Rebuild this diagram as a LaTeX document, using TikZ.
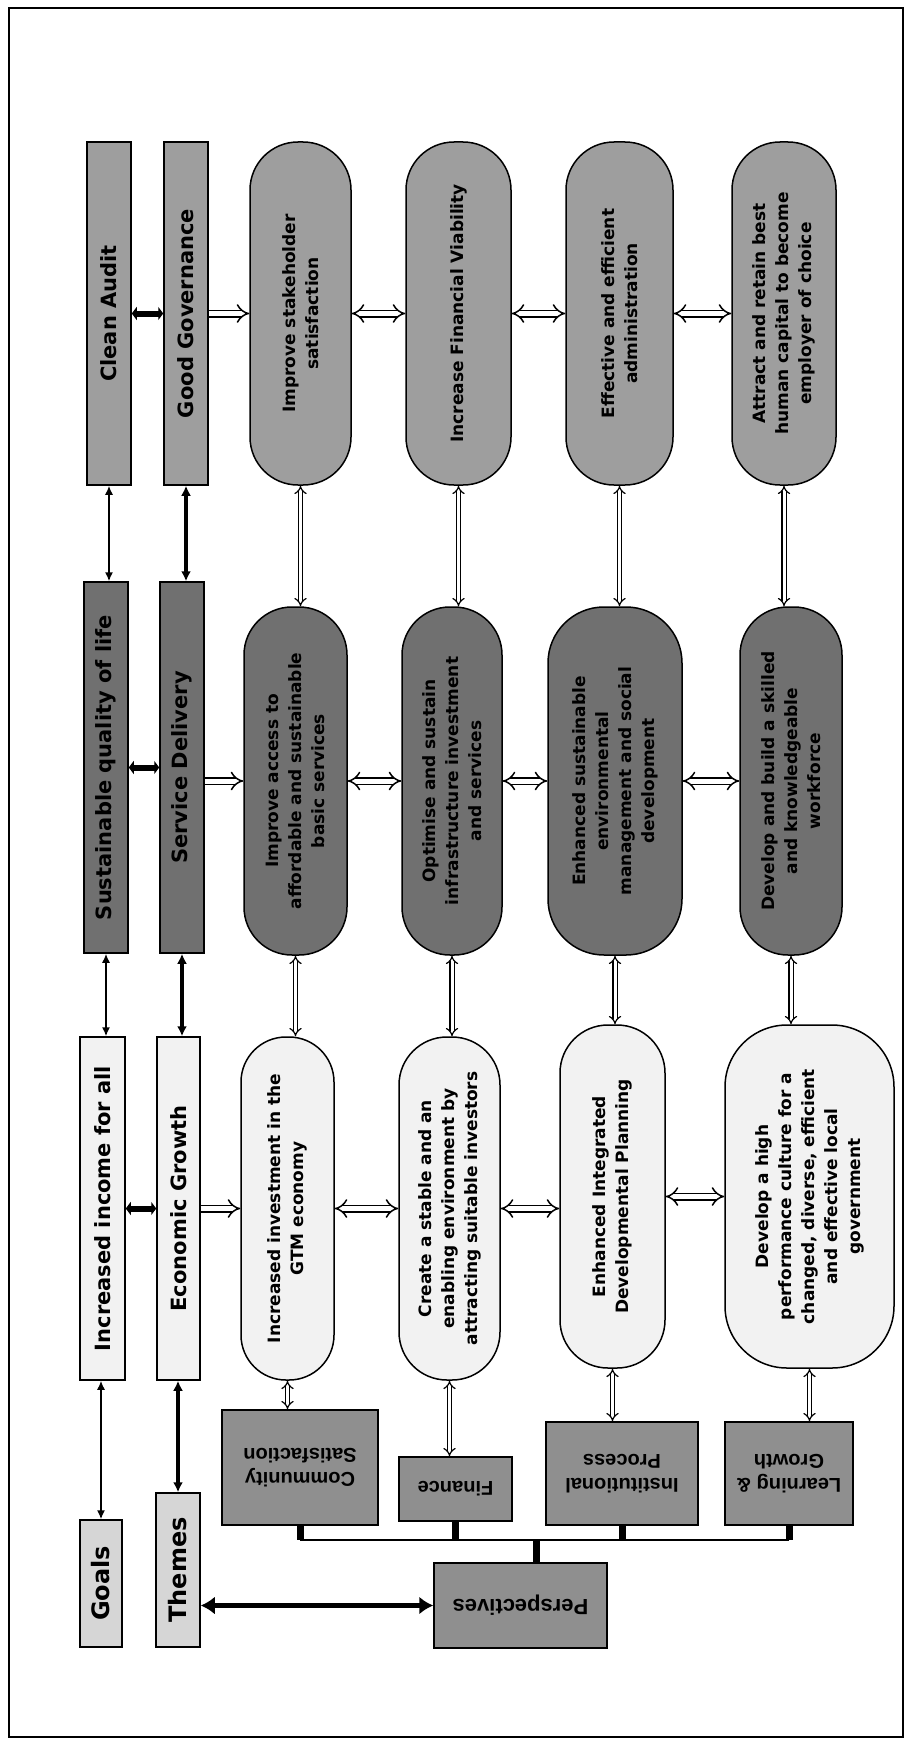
\documentclass[tikz,border=0pt]{standalone}
\usepackage{fontspec}
\setmainfont{DejaVu Sans}
\newfontfamily\perspfont{Liberation Sans}
\usetikzlibrary{arrows.meta}
\definecolor{midgray}{gray}{0.62}
\definecolor{deepgray}{gray}{0.44}
\definecolor{palegray}{gray}{0.95}
\definecolor{lightgray2}{gray}{0.84}
\definecolor{perspgray}{gray}{0.56}

\begin{document}
\begin{tikzpicture}[x=1pt,y=-1pt,
		goalbox/.style={draw=black, line width=1.5pt, rotate=90, inner sep=0pt, font=\bfseries\fontsize{21}{24}\selectfont},
		objective/.style={draw=black, line width=1.5pt, rotate=90, inner sep=0pt, rounded corners=#1, align=center, font=\bfseries\fontsize{17}{23}\selectfont},
		objective/.default=48pt,
		perspbox/.style={draw=black, line width=1.5pt, rotate=180, inner sep=0pt, align=center, fill=perspgray, font=\perspfont\bfseries\fontsize{20}{24}\selectfont},
		thinlink/.style={line width=1.5pt, {Latex[length=9pt,width=8pt]}-{Latex[length=9pt,width=8pt]}},
		boldlink/.style={line width=3.5pt, {Latex[length=10pt,width=10pt]}-{Latex[length=10pt,width=10pt]}},
		blocklink/.style={line width=6pt, {Triangle[length=5pt,width=13pt]}-{Triangle[length=5pt,width=13pt]}},
		heavylink/.style={line width=5.5pt, {Latex[length=14pt,width=18pt]}-{Latex[length=14pt,width=18pt]}},
		hollow/.style={line width=1.5pt, double=white, double distance=5pt},
		slimhollow/.style={line width=1.2pt, double=white, double distance=3pt, {Implies}-{Implies}}]
	\useasboundingbox (0,0) rectangle (910,1742);
	\draw[line width=2.5pt] (9,8) rectangle (903,1737);

	% goals and themes
	\node[goalbox, fill=midgray, minimum width=343pt, minimum height=44pt] (audit) at (109,313.5) {Clean Audit};
	\node[goalbox, fill=midgray, minimum width=343pt, minimum height=44pt] (governance) at (186,313.5) {Good Governance};
	\node[goalbox, fill=deepgray, minimum width=371pt, minimum height=44pt] (quality) at (106,767.5) {Sustainable quality of life};
	\node[goalbox, fill=deepgray, minimum width=371pt, minimum height=44pt] (delivery) at (182,767.5) {Service Delivery};
	\node[goalbox, fill=palegray, minimum width=343pt, minimum height=45pt] (income) at (102.5,1208.5) {Increased income for all};
	\node[goalbox, fill=palegray, minimum width=343pt, minimum height=43pt] (growth) at (178.5,1208.5) {Economic Growth};
	\node[goalbox, fill=lightgray2, minimum width=127pt, minimum height=42pt, font=\bfseries\fontsize{24}{26}\selectfont] (goals) at (101,1583.5) {Goals};
	\node[goalbox, fill=lightgray2, minimum width=154pt, minimum height=44pt, font=\bfseries\fontsize{24}{26}\selectfont] (themes) at (178,1570) {Themes};

	% objectives
	\node[objective, fill=midgray, minimum width=343pt, minimum height=101pt] (stakeholder) at (300.5,313.5) {Improve stakeholder\\satisfaction};
	\node[objective, fill=midgray, minimum width=343pt, minimum height=105pt] (viability) at (458.5,313.5) {Increase Financial Viability};
	\node[objective, fill=midgray, minimum width=343pt, minimum height=107pt] (admin) at (619.5,313.5) {Effective and efficient\\administration};
	\node[objective, fill=midgray, minimum width=343pt, minimum height=104pt] (capital) at (784,313.5) {Attract and retain best\\human capital to become\\employer of choice};
	\node[objective, fill=deepgray, minimum width=348pt, minimum height=103pt] (access) at (295.5,781) {Improve access to\\affordable and sustainable\\basic services};
	\node[objective, fill=deepgray, minimum width=348pt, minimum height=100pt] (infra) at (452,781) {Optimise and sustain\\infrastructure investment\\and services};
	\node[objective=56pt, fill=deepgray, minimum width=348pt, minimum height=134pt] (environ) at (615,781) {Enhanced sustainable\\environmental\\management and social\\development};
	\node[objective, fill=deepgray, minimum width=348pt, minimum height=102pt] (workforce) at (791,781) {Develop and build a skilled\\and knowledgeable\\workforce};
	\node[objective=45pt, fill=palegray, minimum width=343pt, minimum height=93pt] (investment) at (287.5,1208.5) {Increased investment in the\\GTM economy};
	\node[objective, fill=palegray, minimum width=343pt, minimum height=101pt] (stable) at (449.5,1208.5) {Create a stable and an\\enabling environment by\\attracting suitable investors};
	\node[objective, fill=palegray, minimum width=343pt, minimum height=105pt] (planning) at (612.5,1196.5) {Enhanced Integrated\\Developmental Planning};
	\node[objective=62pt, fill=palegray, minimum width=343pt, minimum height=169pt] (culture) at (809.5,1196.5) {Develop a high\\performance culture for a\\changed, diverse, efficient\\and effective local\\government};

	% perspectives
	\node[perspbox, minimum width=156pt, minimum height=115pt] (community) at (300,1467.5) {Community\\Satisfaction};
	\node[perspbox, minimum width=113pt, minimum height=64pt] (finance) at (455.5,1489) {Finance};
	\node[perspbox, minimum width=152pt, minimum height=103pt] (institutional) at (622,1473.5) {Institutional\\Process};
	\node[perspbox, minimum width=128pt, minimum height=103pt] (learning) at (789,1473.5) {Learning \&\\Growth};
	\node[perspbox, minimum width=173pt, minimum height=85pt, font=\perspfont\bfseries\fontsize{22}{24}\selectfont] (perspectives) at (520.5,1605.5) {Perspectives};

	% links between goals and themes
	\draw[thinlink] (audit.west) -- (audit.west |- quality.east);
	\draw[boldlink] (governance.west) -- (governance.west |- delivery.east);
	\draw[thinlink] (quality.west) -- (quality.west |- income.east);
	\draw[boldlink] (delivery.west) -- (delivery.west |- growth.east);
	\draw[thinlink] (goals.east) -- (goals.east |- income.west);
	\draw[boldlink] (themes.east) -- (themes.east |- growth.west);
	\draw[blocklink] (audit.south) -- (audit.south -| governance.north);
	\draw[blocklink] (quality.south) -- (quality.south -| delivery.north);
	\draw[blocklink] (income.south) -- (income.south -| growth.north);
	\draw[heavylink] (perspectives.east -| themes.south) -- (perspectives.east);

	% themes to objectives
	\draw[hollow, -{Implies}] (governance.south |- stakeholder.north) -- (stakeholder.north);
	\draw[hollow, -{Implies}] (delivery.south |- access.north) -- (access.north);
	\draw[hollow, -{Implies}] (growth.south |- investment.north) -- (investment.north);
	\foreach \a/\b in {stakeholder/viability, viability/admin, admin/capital,
			access/infra, infra/environ, environ/workforce,
			investment/stable, stable/planning, planning/culture}
		\draw[hollow, {Implies}-{Implies}] (\a.south) -- (\a.south -| \b.north);

	% objectives down the columns
	\foreach \a/\b in {stakeholder/access, viability/infra, admin/environ, capital/workforce,
			access/investment, infra/stable, environ/planning, workforce/culture}
		\draw[slimhollow] (\a.west) -- (\a.west |- \b.east);
	\foreach \a/\b in {investment/community, stable/finance, planning/institutional, culture/learning}
		\draw[slimhollow] (\a.west) -- (\a.west |- \b.south);

	% perspectives tree
	\coordinate (bus) at (0,1540);
	\foreach \p in {community, finance, institutional, learning}
		\draw[line width=7pt] (\p.north) -- (\p.north |- bus);
	\draw[line width=2pt] (community.north |- bus) -- (learning.north |- bus);
	\draw[line width=7pt] ([xshift=16pt]perspectives.south) -- ([xshift=16pt]perspectives.south |- bus);
\end{tikzpicture}
\end{document}
